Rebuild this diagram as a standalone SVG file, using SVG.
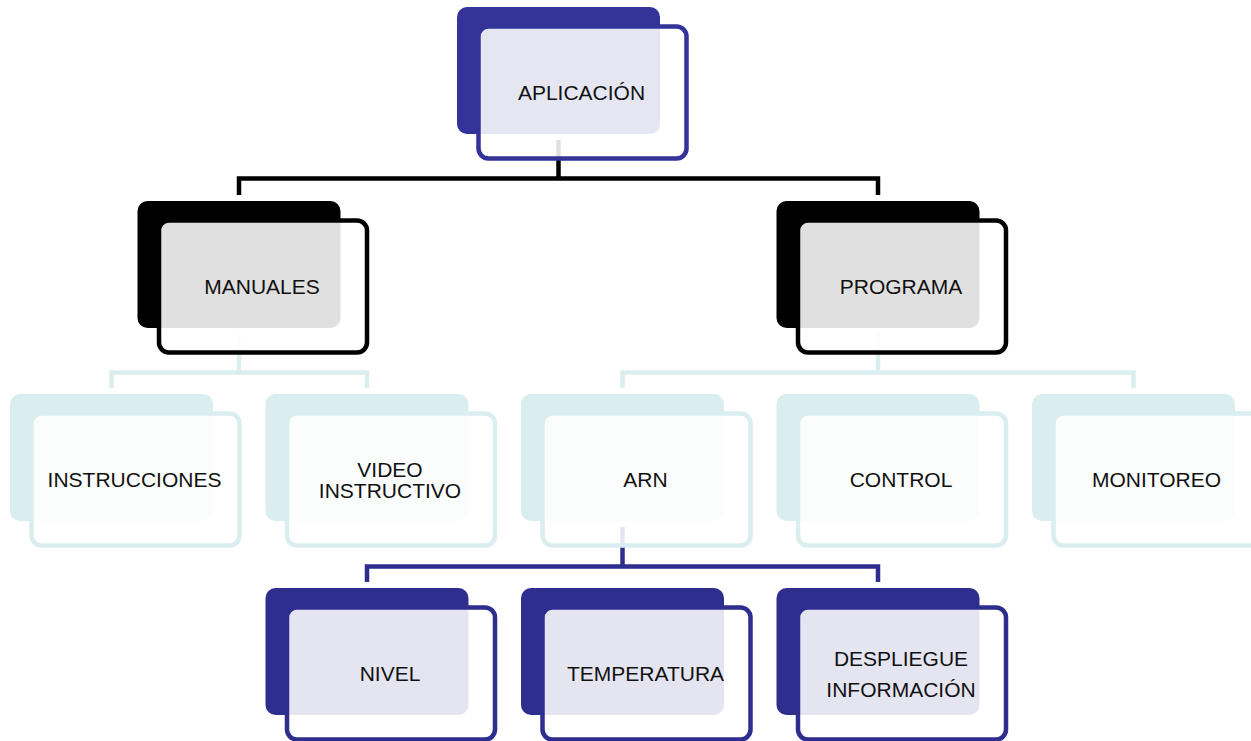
<svg xmlns="http://www.w3.org/2000/svg" width="1251" height="741" viewBox="0 0 1251 741">
<style>
.bg{fill:#ffffff}
.back{stroke:none}
.front{fill:#ffffff;fill-opacity:0.88;stroke-width:4.5}
.blue .back{fill:#333399}.blue .front{stroke:#333399}
.dblue .back{fill:#2E2E8E}.dblue .front{stroke:#2E2E8E}
.black .back{fill:#000000}.black .front{stroke:#000000}
.teal .back{fill:#DAEDEF}.teal .front{stroke:#DAEDEF}
text{font-family:"Liberation Sans",Arial,sans-serif;font-size:21px;fill:#111111;text-anchor:middle}
.conn path{fill:none;stroke-width:4.5;stroke-linejoin:miter;stroke-linecap:butt}
</style>
<rect class="bg" x="0" y="0" width="1251" height="741"/>
<g id="connectors" class="conn">
  <path d="M558.5,140 V178.5" stroke="#000000"/>
  <path d="M239,195 V178.5 H878 V195" stroke="#000000"/>
  <path d="M239,333 V372.5" stroke="#DAEDEF"/>
  <path d="M111.5,388 V372.5 H367 V388" stroke="#DAEDEF"/>
  <path d="M878,333 V372.5" stroke="#DAEDEF"/>
  <path d="M622.5,388 V372.5 H1133.5 V388" stroke="#DAEDEF"/>
  <path d="M622.5,527 V566.5" stroke="#2E2E8E"/>
  <path d="M367,582 V566.5 H878 V582" stroke="#2E2E8E"/>
</g>
<g id="n-aplicacion" class="blue">
  <rect class="back" x="457" y="7" width="203" height="127" rx="10"/>
  <rect class="front" x="478.5" y="26.5" width="208" height="132" rx="10"/>
  <text x="581.5" y="100">APLICACIÓN</text>
</g>
<g id="n-manuales" class="black">
  <rect class="back" x="137.5" y="201" width="203" height="127" rx="10"/>
  <rect class="front" x="159" y="220.5" width="208" height="132" rx="10"/>
  <text x="262" y="294">MANUALES</text>
</g>
<g id="n-programa" class="black">
  <rect class="back" x="776.5" y="201" width="203" height="127" rx="10"/>
  <rect class="front" x="798" y="220.5" width="208" height="132" rx="10"/>
  <text x="901" y="294">PROGRAMA</text>
</g>
<g id="n-instrucciones" class="teal">
  <rect class="back" x="10" y="394" width="203" height="127" rx="10"/>
  <rect class="front" x="31.5" y="413.5" width="208" height="132" rx="10"/>
  <text x="134.5" y="487">INSTRUCCIONES</text>
</g>
<g id="n-video" class="teal">
  <rect class="back" x="265.5" y="394" width="203" height="127" rx="10"/>
  <rect class="front" x="287" y="413.5" width="208" height="132" rx="10"/>
  <text x="390" y="476.5">VIDEO</text>
  <text x="390" y="498">INSTRUCTIVO</text>
</g>
<g id="n-arn" class="teal">
  <rect class="back" x="521" y="394" width="203" height="127" rx="10"/>
  <rect class="front" x="542.5" y="413.5" width="208" height="132" rx="10"/>
  <text x="645.5" y="487">ARN</text>
</g>
<g id="n-control" class="teal">
  <rect class="back" x="776.5" y="394" width="203" height="127" rx="10"/>
  <rect class="front" x="798" y="413.5" width="208" height="132" rx="10"/>
  <text x="901" y="487">CONTROL</text>
</g>
<g id="n-monitoreo" class="teal">
  <rect class="back" x="1032" y="394" width="203" height="127" rx="10"/>
  <rect class="front" x="1053.5" y="413.5" width="208" height="132" rx="10"/>
  <text x="1156.5" y="487">MONITOREO</text>
</g>
<g id="n-nivel" class="dblue">
  <rect class="back" x="265.5" y="588" width="203" height="127" rx="10"/>
  <rect class="front" x="287" y="607.5" width="208" height="132" rx="10"/>
  <text x="390" y="681">NIVEL</text>
</g>
<g id="n-temperatura" class="dblue">
  <rect class="back" x="521" y="588" width="203" height="127" rx="10"/>
  <rect class="front" x="542.5" y="607.5" width="208" height="132" rx="10"/>
  <text x="645.5" y="681">TEMPERATURA</text>
</g>
<g id="n-despliegue" class="dblue">
  <rect class="back" x="776.5" y="588" width="203" height="127" rx="10"/>
  <rect class="front" x="798" y="607.5" width="208" height="132" rx="10"/>
  <text x="901" y="666">DESPLIEGUE</text>
  <text x="901" y="696.5">INFORMACIÓN</text>
</g>
</svg>
